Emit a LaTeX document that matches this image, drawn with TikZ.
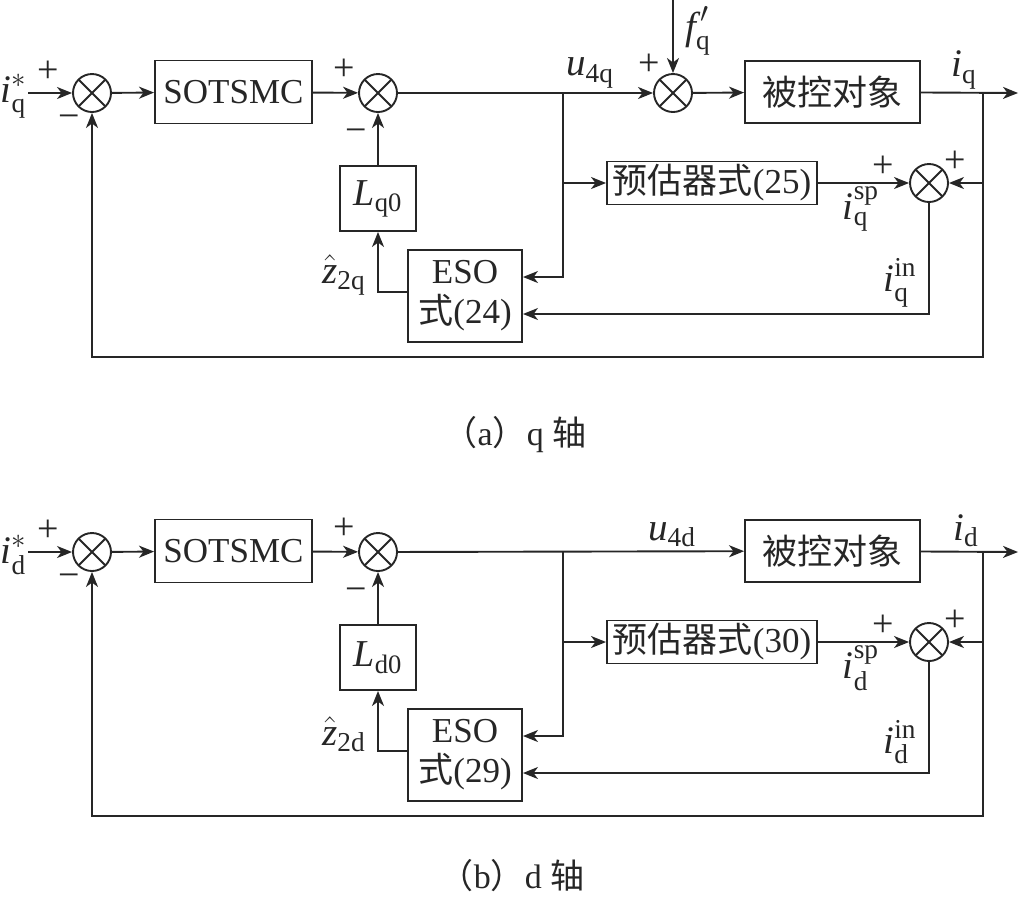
\documentclass[tikz,border=0pt]{standalone}
\usepackage{amsmath}
\usepackage{fontspec}
\setmainfont{Liberation Serif}
\newfontfamily\cjk{Noto Sans CJK SC}
\usetikzlibrary{arrows.meta}
\newcommand\mi[1]{\text{\itshape #1}}
\newcommand\mr[1]{\text{\upshape #1}}
\begin{document}
\begin{tikzpicture}[x=0.5pt,y=-0.5pt,
  color=black!85,
  line width=0.95pt,
  every node/.style={font=\fontsize{17.5}{20}\selectfont},
  blk/.style={draw, line width=0.95pt, inner sep=0pt, align=center},
  sumj/.style={circle, draw, minimum size=19pt, inner sep=0pt,
    path picture={\draw[line width=0.95pt]
      (path picture bounding box.north west) -- (path picture bounding box.south east)
      (path picture bounding box.north east) -- (path picture bounding box.south west);}},
  arr/.style={-{Stealth[length=7.5pt,width=6pt,inset=2.2pt]}},
  sgn/.style={inner sep=0pt, font=\fontsize{19}{22}\selectfont},
  lbl/.style={inner sep=0pt, font=\fontsize{19.5}{22}\selectfont},
  captxt/.style={font=\fontsize{17}{19}\selectfont}]
\useasboundingbox (0,0) rectangle (1020,896);

% ---------------- (a) q axis ----------------
\coordinate (qin) at (28,93);
\node[sumj] (qs1) at (92,93) {};
\node[blk, minimum width=78.5pt, minimum height=31.5pt] (qsot) at (233.5,92) {SOTSMC};
\node[sumj] (qs2) at (378,93) {};
\coordinate (qub) at (563,93);
\node[sumj] (qs3) at (673,93) {};
\coordinate (qft) at (673,0);
\node[blk, minimum width=87.5pt, minimum height=31pt] (qpl) at (832.5,92) {\cjk 被控对象};
\coordinate (qob) at (983,93);
\coordinate (qout) at (1018,93);
\coordinate (qfb) at (983,357);
\node[blk, minimum width=105pt, minimum height=21.5pt] (qest) at (712,183) {{\cjk 预估器式}(25)};
\node[sumj] (qs4) at (929,183) {};
\node[blk, minimum width=57pt, minimum height=46pt] (qeso) at (465,296) {ESO\\{\cjk 式}(24)};
\node[blk, minimum width=38pt, minimum height=32.5pt, font=\fontsize{19}{22}\selectfont] (qlq) at (378,198.5) {$\mi{L}_{\mr{q0}}$};

\draw[arr] (qin) -- (qs1);
\draw[arr] (qs1) -- (qsot);
\draw[arr] (qsot) -- (qs2);
\draw (qs2) -- (qub);
\draw[arr] (qub) -- (qs3);
\draw[arr] (qft) -- (qs3);
\draw[arr] (qs3) -- (qpl);
\draw[arr] (qpl) -- (qout);
\draw[arr] (qob) -- (qfb) -| (qs1.south);
\draw[arr] (qub) |- (qest.west);
\draw[arr] (qest) -- (qs4);
\draw[arr] (qob) |- (qs4.east);
\draw[arr] (qub) |- ([yshift=9.5pt]qeso.east);
\draw[arr] (qs4) |- ([yshift=-9pt]qeso.east);
\draw[arr] ([yshift=2pt]qeso.west) -| (qlq.south);
\draw[arr] (qlq) -- (qs2);

\node[lbl] (qlin) at (14,96) {$\mi{i}^{*}_{\mr{q}}$};
\node[sgn] (qp1) at (48,72) {+};
\node[sgn] (qm1) at (69,122) {−};
\node[sgn] (qp2) at (344,70) {+};
\node[sgn] (qm2) at (356,136) {−};
\node[lbl] (qlu) at (590,73) {$\mi{u}_{\mr{4q}}$};
\node[sgn] (qp3) at (649,65) {+};
\node[lbl] (qlf) at (698,31) {$\mi{f}^{\,\prime}_{\mr{q}}$};
\node[lbl] (qli) at (964,70) {$\mi{i}_{\mr{q}}$};
\node[sgn] (qp4) at (883,167) {+};
\node[sgn] (qp5) at (955,162) {+};
\node[lbl] (qlsp) at (861,209) {$\mi{i}^{\mr{sp}}_{\mr{q}}$};
\node[lbl] (qlinn) at (900,283) {$\mi{i}^{\mr{in}}_{\mr{q}}$};
\node[lbl] (qlz) at (344,275) {$\hat{\mi{z}}_{\mr{2q}}$};

\node[captxt] (capa) at (515,435) {{\cjk （}a{\cjk ）}q {\cjk 轴}};

% ---------------- (b) d axis ----------------
\begin{scope}[shift={(0,459)}]
\coordinate (din) at (28,93);
\node[sumj] (ds1) at (92,93) {};
\node[blk, minimum width=78.5pt, minimum height=31.5pt] (dsot) at (233.5,92) {SOTSMC};
\node[sumj] (ds2) at (378,93) {};
\coordinate (dub) at (563,93);
\node[blk, minimum width=87.5pt, minimum height=31pt] (dpl) at (832.5,92) {\cjk 被控对象};
\coordinate (dob) at (983,93);
\coordinate (dout) at (1018,93);
\coordinate (dfb) at (983,357);
\node[blk, minimum width=105pt, minimum height=21.5pt] (dest) at (712,183) {{\cjk 预估器式}(30)};
\node[sumj] (ds4) at (929,183) {};
\node[blk, minimum width=57pt, minimum height=46pt] (deso) at (465,296) {ESO\\{\cjk 式}(29)};
\node[blk, minimum width=38pt, minimum height=32.5pt, font=\fontsize{19}{22}\selectfont] (dlq) at (378,198.5) {$\mi{L}_{\mr{d0}}$};

\draw[arr] (din) -- (ds1);
\draw[arr] (ds1) -- (dsot);
\draw[arr] (dsot) -- (ds2);
\draw[arr] (ds2) -- (dpl);
\draw[arr] (dpl) -- (dout);
\draw[arr] (dob) -- (dfb) -| (ds1.south);
\draw[arr] (dub) |- (dest.west);
\draw[arr] (dest) -- (ds4);
\draw[arr] (dob) |- (ds4.east);
\draw[arr] (dub) |- ([yshift=9.5pt]deso.east);
\draw[arr] (ds4) |- ([yshift=-9pt]deso.east);
\draw[arr] ([yshift=2pt]deso.west) -| (dlq.south);
\draw[arr] (dlq) -- (ds2);

\node[lbl] (dlin) at (14,96) {$\mi{i}^{*}_{\mr{d}}$};
\node[sgn] (dp1) at (48,72) {+};
\node[sgn] (dm1) at (69,122) {−};
\node[sgn] (dp2) at (344,70) {+};
\node[sgn] (dm2) at (356,136) {−};
\node[lbl] (dlu) at (672,76) {$\mi{u}_{\mr{4d}}$};
\node[lbl] (dli) at (966,72) {$\mi{i}_{\mr{d}}$};
\node[sgn] (dp4) at (883,167) {+};
\node[sgn] (dp5) at (955,162) {+};
\node[lbl] (dlsp) at (861,209) {$\mi{i}^{\mr{sp}}_{\mr{d}}$};
\node[lbl] (dlinn) at (900,283) {$\mi{i}^{\mr{in}}_{\mr{d}}$};
\node[lbl] (dlz) at (344,275) {$\hat{\mi{z}}_{\mr{2d}}$};
\end{scope}

\node[captxt] (capb) at (512,876) {{\cjk （}b{\cjk ）}d {\cjk 轴}};
\end{tikzpicture}
\end{document}
